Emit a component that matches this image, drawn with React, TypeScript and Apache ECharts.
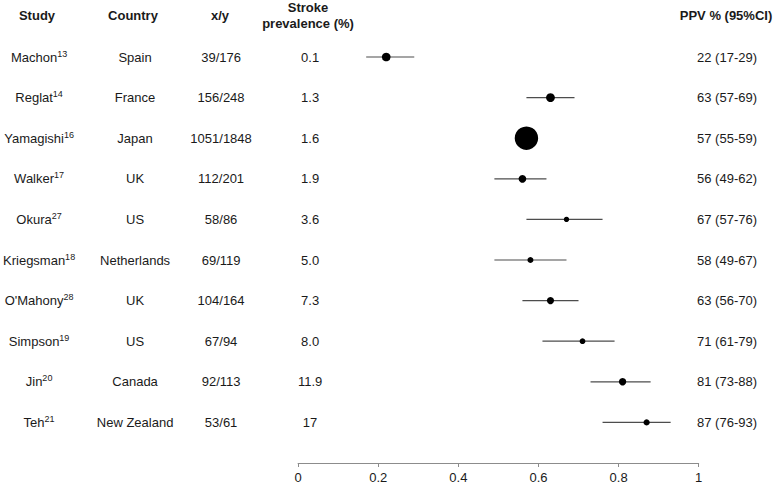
import React, { useEffect, useRef } from "react";
import * as echarts from "echarts";

const studies = ["Machon", "Reglat", "Yamagishi", "Walker", "Okura", "Kriegsman", "O'Mahony", "Simpson", "Jin", "Teh"];
const refs = ["13", "14", "16", "17", "27", "18", "28", "19", "20", "21"];
const countries = ["Spain", "France", "Japan", "UK", "US", "Netherlands", "UK", "US", "Canada", "New Zealand"];
const positives = [39, 156, 1051, 112, 58, 69, 104, 67, 92, 53];
const totals = [176, 248, 1848, 201, 86, 119, 164, 94, 113, 61];
const strokePrevalence = ["0.1", "1.3", "1.6", "1.9", "3.6", "5.0", "7.3", "8.0", "11.9", "17"];
const ppv = [22, 63, 57, 56, 67, 58, 63, 71, 81, 87];
const ciLow = [17, 57, 55, 49, 57, 49, 56, 61, 73, 76];
const ciHigh = [29, 69, 59, 62, 76, 67, 70, 79, 88, 93];
const xTicks = [0, 0.2, 0.4, 0.6, 0.8, 1];

const FONT = "'Liberation Sans', Arial, Helvetica, sans-serif";
const TXT = "#1a1a1a";

export default function App() {
  const ref = useRef<HTMLDivElement>(null);
  useEffect(() => {
    if (!ref.current) return;
    const chart = echarts.init(ref.current, null, { renderer: "svg" });

    // inverse-variance weight -> marker area
    const sizes = totals.map((n, i) => {
      const p = positives[i] / n;
      return 0.27 * Math.sqrt(n / (p * (1 - p)));
    });

    const colAxis = (pos: "left" | "right", offset: number, fmt: (v: string, i: number) => string, extra: any = {}) => ({
      type: "category",
      data: studies,
      inverse: true,
      position: pos,
      offset,
      axisLine: { show: false },
      axisTick: { show: false },
      splitLine: { show: false },
      axisLabel: {
        align: "center",
        margin: 0,
        fontSize: 13,
        fontFamily: FONT,
        color: TXT,
        formatter: fmt,
        ...extra,
      },
    });

    const gridLeft = 296;
    const gridRight = 75.3;

    chart.setOption({
      animation: false,
      backgroundColor: "#ffffff",
      textStyle: { fontFamily: FONT },
      grid: { left: gridLeft, right: gridRight, top: 36.7, bottom: 42.3 },
      xAxis: {
        type: "value",
        min: 0,
        max: 1,
        interval: 0.2,
        offset: 20.3,
        axisLine: { show: true, lineStyle: { color: "#8c8c8c", width: 1 } },
        axisTick: { show: true, length: 4, lineStyle: { color: "#8c8c8c" } },
        splitLine: { show: false },
        axisLabel: { fontSize: 13, color: TXT, fontFamily: FONT, margin: 8 },
        data: xTicks,
      },
      yAxis: [
        colAxis("left", gridLeft - 37, (v: string, i: number) => `{n|${studies[i]}}{s|${refs[i]}}`, {
          rich: {
            n: { fontSize: 13, fontFamily: FONT, color: TXT, lineHeight: 16 },
            s: { fontSize: 9, fontFamily: FONT, color: TXT, verticalAlign: "top", lineHeight: 10 },
          },
        }),
        colAxis("left", gridLeft - 133, (v: string, i: number) => countries[i]),
        colAxis("left", gridLeft - 219, (v: string, i: number) => `${positives[i]}/${totals[i]}`),
        colAxis("left", gridLeft - 308, (v: string, i: number) => strokePrevalence[i]),
        colAxis("right", 727 - (774 - gridRight), (v: string, i: number) => `${ppv[i]} (${ciLow[i]}-${ciHigh[i]})`),
      ],
      series: [
        {
          type: "custom",
          yAxisIndex: 0,
          clip: false,
          encode: { x: [0, 1], y: 2 },
          data: studies.map((s, i) => [ciLow[i] / 100, ciHigh[i] / 100, i]),
          renderItem: (params: any, api: any) => {
            const a = api.coord([api.value(0), api.value(2)]);
            const b = api.coord([api.value(1), api.value(2)]);
            return {
              type: "line",
              shape: { x1: a[0], y1: a[1], x2: b[0], y2: b[1] },
              style: { stroke: "#4d4d4d", lineWidth: 1.2 },
            };
          },
        },
        {
          type: "scatter",
          yAxisIndex: 0,
          clip: false,
          z: 5,
          symbol: "circle",
          itemStyle: { color: "#000000", opacity: 1 },
          data: studies.map((s, i) => ({ value: [ppv[i] / 100, i], symbolSize: sizes[i] })),
        },
      ],
      graphic: [
        { type: "text", x: 37, y: 15, style: { text: "Study", font: `bold 13px ${FONT}`, fill: TXT, align: "center", verticalAlign: "middle" } },
        { type: "text", x: 133, y: 15, style: { text: "Country", font: `bold 13px ${FONT}`, fill: TXT, align: "center", verticalAlign: "middle" } },
        { type: "text", x: 220, y: 15, style: { text: "x/y", font: `bold 13px ${FONT}`, fill: TXT, align: "center", verticalAlign: "middle" } },
        { type: "text", x: 308, y: 7, style: { text: "Stroke", font: `bold 13px ${FONT}`, fill: TXT, align: "center", verticalAlign: "middle" } },
        { type: "text", x: 308, y: 23, style: { text: "prevalence (%)", font: `bold 13px ${FONT}`, fill: TXT, align: "center", verticalAlign: "middle" } },
        { type: "text", x: 726, y: 15, style: { text: "PPV % (95%CI)", font: `bold 13px ${FONT}`, fill: TXT, align: "center", verticalAlign: "middle" } },
      ],
    });
    return () => chart.dispose();
  }, []);
  return <div ref={ref} style={{ position: "fixed", left: 0, top: 0, width: 774, height: 485 }} />;
}
